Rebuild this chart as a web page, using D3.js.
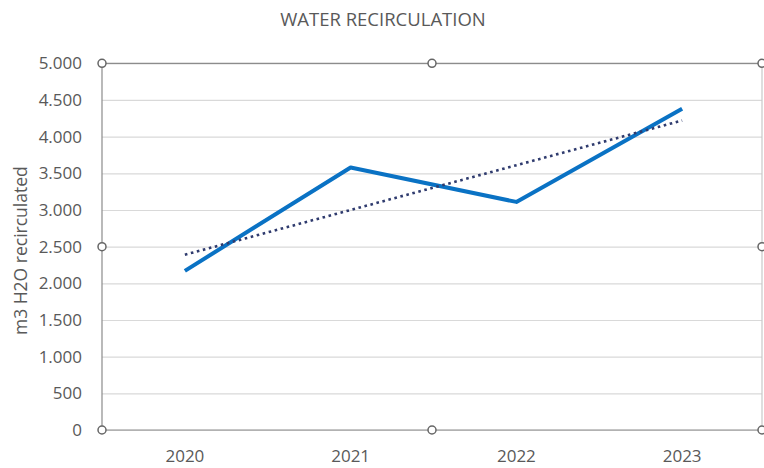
<!DOCTYPE html>
<html>
<head>
<meta charset="utf-8">
<script src="https://cdn.jsdelivr.net/npm/d3@7"></script>
<style>
  body { margin: 0; background: #fff; }
  svg { display: block; font-family: "Open Sans", sans-serif; }
</style>
</head>
<body>
<script>
// values
const years = ["2020", "2021", "2022", "2023"];
const recirculated = [2170, 3580, 3110, 4380];
const trendEnds = [2390, 4220]; // linear trend at 2020 and 2023
const yTicks = [0, 500, 1000, 1500, 2000, 2500, 3000, 3500, 4000, 4500, 5000];

const W = 764, H = 468;
const plotLeft = 102, plotRight = 762, plotTop = 63.3, plotBottom = 430;

const svg = d3.select("body").append("svg")
  .attr("width", W)
  .attr("height", H);

const x = d3.scaleBand().domain(years).range([plotLeft, 765]).padding(0);
const y = d3.scaleLinear().domain([0, 5000]).range([plotBottom, plotTop]);

const fmt = d3.formatLocale({ decimal: ",", thousands: ".", grouping: [3], currency: ["", ""] }).format(",");

// gridlines
svg.append("g")
  .attr("transform", `translate(${plotLeft},0)`)
  .call(d3.axisLeft(y).tickValues(yTicks).tickSize(-(plotRight - plotLeft)).tickFormat(""))
  .call(g => g.select(".domain").remove())
  .call(g => g.selectAll("line").attr("stroke", "#d9d9d9").attr("stroke-width", 1.2));

// y tick labels
svg.append("g")
  .attr("transform", `translate(${plotLeft},0)`)
  .call(d3.axisLeft(y).tickValues(yTicks).tickSize(0).tickPadding(20).tickFormat(fmt))
  .call(g => g.select(".domain").remove())
  .call(g => g.selectAll("text")
    .attr("fill", "#595959")
    .style("font-size", "17px")
    .style("font-family", "'Open Sans', sans-serif"));

// x tick labels
svg.append("g")
  .attr("transform", `translate(0,${plotBottom})`)
  .call(d3.axisBottom(x).tickSize(0).tickPadding(20))
  .call(g => g.select(".domain").remove())
  .call(g => g.selectAll("text")
    .attr("fill", "#595959")
    .style("font-size", "17px")
    .style("font-family", "'Open Sans', sans-serif"));

// selection frame (right edge lighter, like the reference)
svg.append("line")
  .attr("x1", plotRight).attr("x2", plotRight)
  .attr("y1", plotTop).attr("y2", plotBottom)
  .attr("stroke", "#c8c8c8").attr("stroke-width", 1.2);
svg.append("path")
  .attr("d", `M${plotRight},${plotTop}H${plotLeft}V${plotBottom}H${plotRight}`)
  .attr("fill", "none")
  .attr("stroke", "#8c8c8c")
  .attr("stroke-width", 1.2);

// series line
const cx = d => x(d) + x.bandwidth() / 2;
const line = d3.line()
  .x((d, i) => cx(years[i]))
  .y(d => y(d));

svg.append("path")
  .datum(recirculated)
  .attr("fill", "none")
  .attr("stroke", "#0a72c4")
  .attr("stroke-width", 4)
  .attr("stroke-linejoin", "round")
  .attr("d", line);

// trend line
svg.append("line")
  .attr("x1", cx(years[0]))
  .attr("y1", y(trendEnds[0]))
  .attr("x2", cx(years[years.length - 1]))
  .attr("y2", y(trendEnds[1]))
  .attr("stroke", "#2f3b6e")
  .attr("stroke-width", 2.6)
  .attr("stroke-dasharray", "2.6,3.6");

// handles
const midX = (plotLeft + plotRight) / 2, midY = (plotTop + plotBottom) / 2;
const handles = [
  [plotLeft, plotTop], [midX, plotTop], [plotRight, plotTop],
  [plotLeft, midY], [plotRight, midY],
  [plotLeft, plotBottom], [midX, plotBottom], [plotRight, plotBottom]
];
svg.append("g").selectAll("circle")
  .data(handles)
  .join("circle")
  .attr("cx", d => d[0])
  .attr("cy", d => d[1])
  .attr("r", 4)
  .attr("fill", "#fff")
  .attr("stroke", "#666")
  .attr("stroke-width", 1.5);

// title
svg.append("text")
  .attr("x", 383)
  .attr("y", 26)
  .attr("text-anchor", "middle")
  .attr("fill", "#595959")
  .style("font-size", "18.5px")
  .text("WATER RECIRCULATION");

// y axis title
svg.append("text")
  .attr("transform", `translate(27,${(plotTop + plotBottom) / 2 + 4}) rotate(-90)`)
  .attr("text-anchor", "middle")
  .attr("fill", "#595959")
  .style("font-size", "17.5px")
  .text("m3 H2O recirculated");
</script>
</body>
</html>
